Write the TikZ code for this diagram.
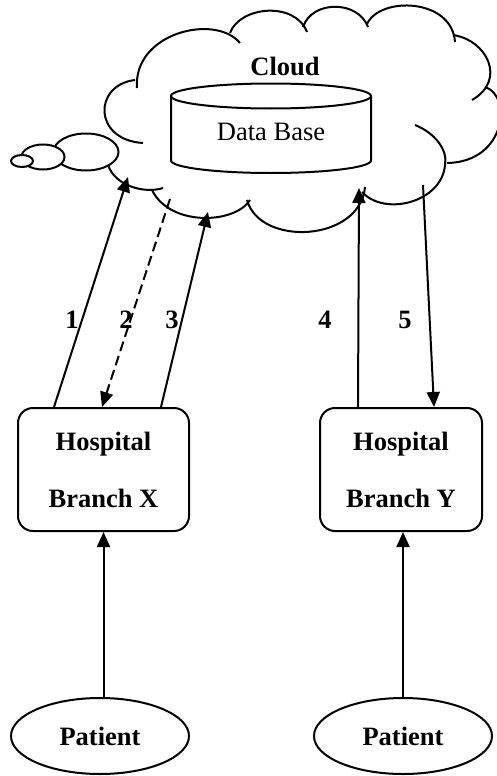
\documentclass[tikz,border=0pt]{standalone}
\usepackage{fontspec}
\setmainfont{Liberation Serif}
\usetikzlibrary{arrows.meta,shapes.geometric,calc}
\begin{document}
\begin{tikzpicture}[x=1pt,y=-1pt,
 line width=2pt,
 arr/.style={-{Triangle[length=15pt,width=13pt]}},
 hbox/.style={draw,rounded corners=15pt,minimum width=171pt,minimum height=123pt,inner sep=0pt,align=center,font=\fontsize{26.5}{57}\selectfont\bfseries},
 pat/.style={draw,ellipse,minimum width=178pt,minimum height=76pt,inner sep=0pt,font=\fontsize{26.5}{30}\selectfont\bfseries},
 lbl/.style={font=\fontsize{26.5}{30}\selectfont\bfseries},
 bubble/.style={draw,fill=white},
 dashline/.style={dash pattern=on 10pt off 5pt}]
\useasboundingbox (0,0) rectangle (496,776);
% cloud outline
\draw (137,88) .. controls (133,33) and (215,13) .. (240,43);
\draw (230,33) .. controls (240,6) and (295,1) .. (307,32);
\draw (303,27) .. controls (312,0) and (358,0) .. (368,27);
\draw (367,24) .. controls (380,-4) and (452,-2) .. (455,42);
\draw (453,35) .. controls (487,40) and (507,80) .. (472,100);
\draw (485,87) .. controls (512,95) and (507,162) .. (447,163);
\draw (415,125) .. controls (435,133) and (448,150) .. (445,165) .. controls (442,202) and (385,217) .. (362,192);
\draw (365,187) .. controls (360,242) and (260,247) .. (247,200);
\draw (250,200) .. controls (235,224) and (170,227) .. (152,190);
\draw (163,188) .. controls (145,194) and (115,186) .. (108,165);
\draw (135,80) .. controls (93,85) and (93,140) .. (143,143);
% thought bubbles
\draw[bubble] (86,152) ellipse [x radius=32.5, y radius=18.5];
\draw[bubble] (43,157) ellipse [x radius=21.5, y radius=12.5];
\draw[bubble] (22,161) ellipse [x radius=11, y radius=6];
% database cylinder
\draw[fill=white] (171,96) -- (171,160.5) arc[start angle=180,end angle=0,x radius=100,y radius=12.5] -- (371,96);
\draw (271,96) ellipse [x radius=100, y radius=12.5];
\node[lbl] (cl) at (285,66) {Cloud};
\node[font=\fontsize{26.5}{30}\selectfont] (db) at (271,132) {Data Base};
% boxes
\node[hbox] (bx) at (103.5,469.5) {Hospital\\Branch X};
\node[hbox,minimum width=162pt] (by) at (401,469.5) {Hospital\\Branch Y};
\node[pat] (px) at (100,736) {Patient};
\node[pat] (py) at (403,736) {Patient};
% connector ends on the cloud
\coordinate (t1) at (128,177);
\coordinate (s2) at (170,199);
\coordinate (t3) at (208,212);
\coordinate (t4) at (359,188);
\coordinate (s5) at (423,185);
\draw[arr] ($(bx.north west)+(37,0)$) -- (t1);
\draw[arr,dashline] (s2) -- ($(bx.north west)+(85,0)$);
\draw[arr] ($(bx.north west)+(144,0)$) -- (t3);
\draw[arr] ($(by.north west)+(39,0)$) -- (t4);
\draw[arr] (s5) -- ($(by.north west)+(115,0)$);
\draw[arr] (px.north -| bx.south) -- (bx.south);
\draw[arr] (py.north) -- (py.north |- by.south);
% labels
\node[lbl] (l1) at (72,320) {1};
\node[lbl] (l2) at (126,320) {2};
\node[lbl] (l3) at (172,320) {3};
\node[lbl] (l4) at (325,320) {4};
\node[lbl] (l5) at (405,320) {5};
\end{tikzpicture}
\end{document}
